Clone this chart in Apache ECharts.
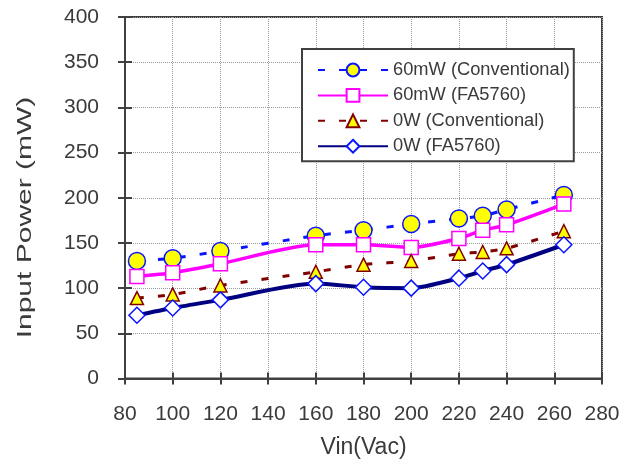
<!DOCTYPE html>
<html>
<head>
<meta charset="utf-8">
<script src="https://cdn.jsdelivr.net/npm/echarts@6/dist/echarts.min.js"></script>
<style>html,body{margin:0;padding:0;background:#fff;}#c{width:632px;height:464px;}</style>
</head>
<body>
<div id="c"></div>
<script>
var vin = [85, 100, 120, 160, 180, 200, 220, 230, 240, 264];
var conv60 = [130, 133, 141, 158, 164, 171, 177, 180, 187, 203];
var fa60 = [113, 117, 127, 148, 148, 145, 155, 164, 170, 193];
var conv0 = [89, 93, 103, 118, 126, 130, 138, 140, 144, 163];
var fa0 = [70, 78, 87, 105, 101, 100, 111, 119, 126, 148];
var seriesNames = ['60mW (Conventional)', '60mW (FA5760)', '0W (Conventional)', '0W (FA5760)'];
var xTitle = 'Vin(Vac)';
var yTitle = 'Input Power (mW)';
var xTicks = {min: 80, max: 280, interval: 20};
var yTicks = {min: 0, max: 400, interval: 50};

function pairs(ys) { return vin.map(function (x, i) { return [x, ys[i]]; }); }

var FONT = 'Liberation Sans, Arial, sans-serif';
var TXT = '#3a3a3a';
var AX = '#404040';

var chart = echarts.init(document.getElementById('c'), null, {renderer: 'canvas'});
chart.setOption({
  animation: false,
  backgroundColor: '#fff',
  grid: {left: 125, top: 17, right: 30, bottom: 82, show: true, borderColor: AX, borderWidth: 2, backgroundColor: 'transparent'},
  legend: {
    orient: 'vertical', left: 302, top: 49,
    backgroundColor: '#fff', borderColor: AX, borderWidth: 2,
    padding: [12, 4, 6, 15], itemWidth: 70, itemHeight: 16, itemGap: 7.4,
    textStyle: {fontFamily: FONT, fontSize: 18.3, color: TXT},
    data: seriesNames
  },
  graphic: [{
    type: 'text',
    x: 25, y: 217.5,
    rotation: Math.PI / 2, scaleX: 1.5,
    style: {text: yTitle, fontFamily: FONT, fontSize: 20, fill: TXT, textAlign: 'center', textVerticalAlign: 'middle'}
  }],
  xAxis: [{
    type: 'value', min: xTicks.min, max: xTicks.max, interval: xTicks.interval,
    name: xTitle, nameLocation: 'middle', nameGap: 57.5,
    nameTextStyle: {fontFamily: FONT, fontSize: 23, color: TXT},
    axisLine: {show: true, lineStyle: {color: AX, width: 2}},
    axisTick: {show: true, length: 6, lineStyle: {color: AX, width: 2}},
    axisLabel: {fontFamily: FONT, fontSize: 21, color: TXT, margin: 25},
    splitLine: {show: true, lineStyle: {color: '#9a9a9a', width: 1, type: [1, 1]}}
  }, {
    type: 'value', position: 'bottom', min: xTicks.min, max: xTicks.max, interval: xTicks.interval,
    axisLine: {show: false}, axisLabel: {show: false}, splitLine: {show: false},
    axisTick: {show: true, inside: true, length: 6, lineStyle: {color: AX, width: 2}}
  }],
  yAxis: [{
    type: 'value', min: yTicks.min, max: yTicks.max, interval: yTicks.interval,
    axisLine: {show: true, lineStyle: {color: AX, width: 2}},
    axisTick: {show: true, length: 7, lineStyle: {color: AX, width: 2}},
    axisLabel: {fontFamily: FONT, fontSize: 21, color: TXT, margin: 26},
    splitLine: {show: true, lineStyle: {color: '#9a9a9a', width: 1, type: [1, 1]}}
  }, {
    type: 'value', position: 'left', min: yTicks.min, max: yTicks.max, interval: yTicks.interval,
    axisLine: {show: false}, axisLabel: {show: false}, splitLine: {show: false},
    axisTick: {show: true, inside: true, length: 7, lineStyle: {color: AX, width: 2}}
  }],
  series: [{
    name: seriesNames[0], type: 'line', data: pairs(conv60), smooth: 0.25,
    lineStyle: {color: '#0a14ff', width: 3, type: [7, 14]},
    symbol: 'circle', symbolSize: 17,
    itemStyle: {color: '#ffff00', borderColor: '#0a14ff', borderWidth: 1.5}
  }, {
    name: seriesNames[1], type: 'line', data: pairs(fa60), smooth: 0.25,
    lineStyle: {color: '#ff00ff', width: 3.5},
    symbol: 'rect', symbolSize: 14,
    itemStyle: {color: '#ffffff', borderColor: '#ff00ff', borderWidth: 1.5}
  }, {
    name: seriesNames[2], type: 'line', data: pairs(conv0), smooth: 0.25,
    lineStyle: {color: '#800000', width: 3, type: [7, 14]},
    symbol: 'triangle', symbolSize: 13,
    itemStyle: {color: '#ffff00', borderColor: '#800000', borderWidth: 1.5}
  }, {
    name: seriesNames[3], type: 'line', data: pairs(fa0), smooth: 0.25,
    lineStyle: {color: '#000080', width: 4},
    symbol: 'diamond', symbolSize: 16,
    itemStyle: {color: '#ffffff', borderColor: '#0a14ff', borderWidth: 1.5}
  }]
});
</script>
</body>
</html>
